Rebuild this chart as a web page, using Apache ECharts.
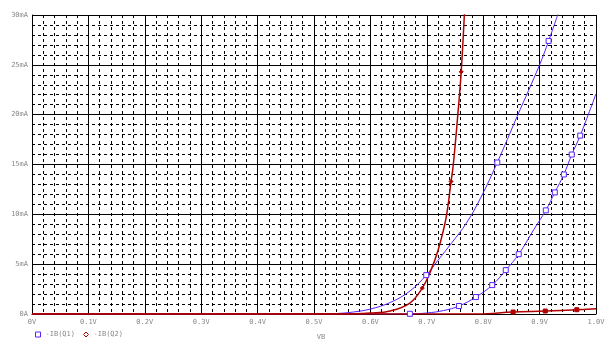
<!DOCTYPE html>
<html>
<head>
<meta charset="utf-8">
<script src="https://cdn.jsdelivr.net/npm/echarts@6/dist/echarts.min.js"></script>
<style>
  html, body { margin: 0; padding: 0; background: #fff; }
  #chart { width: 612px; height: 346px; }
</style>
</head>
<body>
<div id="chart"></div>
<script>
// x ticks (V) and y ticks (mA)
const xTicks = ['0V', '0.1V', '0.2V', '0.3V', '0.4V', '0.5V', '0.6V', '0.7V', '0.8V', '0.9V', '1.0V']
const yTicks = ['0A', '5mA', '10mA', '15mA', '20mA', '25mA', '30mA']

// -IB(Q1), two traces (blue)
const vQ1a = [0, 0.50, 0.54, 0.57, 0.60, 0.635, 0.67, 0.699, 0.72, 0.745, 0.77, 0.795, 0.825, 0.86, 0.90, 0.916, 0.935]
const iQ1a = [0, 0, 0.05, 0.2, 0.5, 1.15, 2.3, 3.9, 5.4, 7.2, 9.1, 11.6, 15.2, 19.8, 25.0, 27.4, 30.5]
const markQ1a = [7, 12, 15]

const vQ1b = [0, 0.64, 0.67, 0.70, 0.73, 0.757, 0.787, 0.816, 0.84, 0.863, 0.89, 0.911, 0.927, 0.943, 0.957, 0.972, 1.0]
const iQ1b = [0, 0, 0.02, 0.1, 0.35, 0.8, 1.7, 2.9, 4.4, 6.0, 8.5, 10.4, 12.2, 14.0, 16.0, 17.9, 22.1]
const markQ1b = [2, 5, 6, 7, 8, 9, 11, 12, 13, 14, 15]

// -IB(Q2), two traces (red)
const vQ2a = [0, 0.55, 0.60, 0.635, 0.67, 0.692, 0.706, 0.72, 0.734, 0.743, 0.747, 0.755, 0.761, 0.767]
const iQ2a = [0, 0, 0.1, 0.3, 1.1, 2.6, 4.2, 6.4, 9.6, 13.3, 15.0, 20.0, 24.3, 30.5]
const markQ2a = [5, 9, 12]

const vQ2b = [0, 0.79, 0.853, 0.91, 0.966, 1.0]
const iQ2b = [0, 0, 0.2, 0.3, 0.43, 0.53]
const markQ2b = [2, 3, 4]

const blue = '#5a22ff'
const red = '#b00000'

function trace(vs, is, marks, symbol) {
  return vs.map((v, k) => {
    const item = { value: [v, is[k]] }
    if (marks.indexOf(k) >= 0) item.symbol = symbol
    return item
  })
}

const chart = echarts.init(document.getElementById('chart'))

const qStyle = (color, width, size, filled) => ({
  type: 'line',
  smooth: 0.4,
  symbol: 'none',
  symbolSize: size,
  showSymbol: true,
  showAllSymbol: true,
  lineStyle: { color: color, width: width },
  itemStyle: { color: filled ? color : '#fff', borderColor: color, borderWidth: 1 },
  emphasis: { disabled: true },
  animation: false
})

chart.setOption({
  grid: { left: 32, right: 16, top: 15, bottom: 30 },
  legend: {
    left: 30,
    top: 326,
    itemWidth: 5,
    itemHeight: 5,
    itemGap: 8,
    textStyle: { fontFamily: 'DejaVu Sans Mono', fontSize: 7, color: '#888' },
    data: [
      { name: '-IB(Q1)', icon: 'rect', itemStyle: { color: '#fff', borderColor: blue, borderWidth: 1 } },
      { name: '-IB(Q2)', icon: 'diamond', itemStyle: { color: '#fff', borderColor: red, borderWidth: 1 } }
    ]
  },
  xAxis: {
    type: 'value',
    min: 0,
    max: 1,
    interval: 0.1,
    name: 'VB',
    nameLocation: 'middle',
    nameGap: 20,
    nameTextStyle: { fontFamily: 'DejaVu Sans Mono', fontSize: 7, color: '#888', padding: [0, 0, 0, 14] },
    axisLine: { show: true, lineStyle: { color: '#000', width: 1 } },
    axisTick: { show: false },
    axisLabel: {
      fontFamily: 'DejaVu Sans Mono', fontSize: 7, color: '#888', margin: 5,
      formatter: v => xTicks[Math.round(v * 10)]
    },
    splitLine: { show: true, lineStyle: { color: '#000', width: 1 } },
    minorTick: { show: false, splitNumber: 5 },
    minorSplitLine: { show: true, lineStyle: { color: '#000', width: 1, type: [3, 3] } }
  },
  yAxis: {
    type: 'value',
    min: 0,
    max: 30,
    interval: 5,
    axisLine: { show: true, lineStyle: { color: '#000', width: 1 } },
    axisTick: { show: false },
    axisLabel: {
      fontFamily: 'DejaVu Sans Mono', fontSize: 7, color: '#888', margin: 4,
      formatter: v => yTicks[Math.round(v / 5)]
    },
    splitLine: { show: true, lineStyle: { color: '#000', width: 1 } },
    minorTick: { show: false, splitNumber: 5 },
    minorSplitLine: { show: true, lineStyle: { color: '#000', width: 1, type: [3, 3] } }
  },
  series: [
    Object.assign(qStyle(blue, 1, 5, false), { name: '-IB(Q1)', data: trace(vQ1a, iQ1a, markQ1a, 'rect') }),
    Object.assign(qStyle(blue, 1, 5, false), { name: '-IB(Q1)', data: trace(vQ1b, iQ1b, markQ1b, 'rect') }),
    Object.assign(qStyle(red, 1.5, 4, true), { name: '-IB(Q2)', data: trace(vQ2a, iQ2a, markQ2a, 'diamond') }),
    Object.assign(qStyle(red, 1.5, 4, true), { name: '-IB(Q2)', data: trace(vQ2b, iQ2b, markQ2b, 'rect') })
  ]
})
</script>
</body>
</html>
